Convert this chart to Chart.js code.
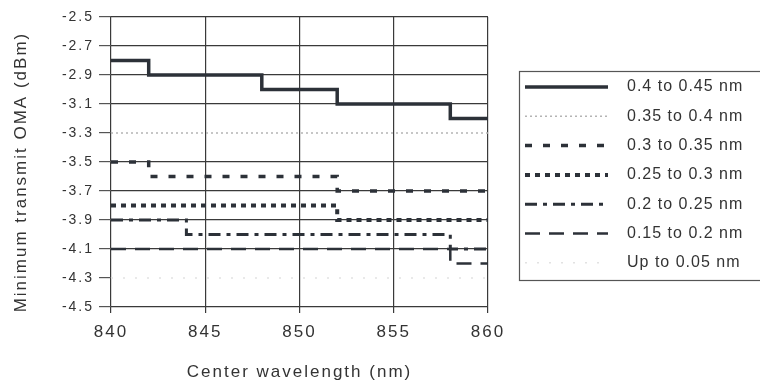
<!DOCTYPE html>
<html>
<head>
<meta charset="utf-8">
<script src="https://cdn.jsdelivr.net/npm/chart.js@4.4.0/dist/chart.umd.min.js"></script>
<style>
html, body { margin: 0; padding: 0; background: #fff; }
</style>
</head>
<body>
<canvas id="myChart" width="760" height="384"></canvas>
<script>
// tick labels
const wavelengthTicks = [840, 845, 850, 855, 860];
const omaTicks = [-2.5, -2.7, -2.9, -3.1, -3.3, -3.5, -3.7, -3.9, -4.1, -4.3, -4.5];

// series names (RMS spectral width)
const seriesNames = ['0.4 to 0.45 nm', '0.35 to 0.4 nm', '0.3 to 0.35 nm', '0.25 to 0.3 nm',
                     '0.2 to 0.25 nm', '0.15 to 0.2 nm', 'Up to 0.05 nm'];

// step breakpoints (nm) and minimum OMA (dBm) from each breakpoint on
const wl_040_045 = [840, 842, 848, 852, 858, 860];
const oma_040_045 = [-2.8, -2.9, -3.0, -3.1, -3.2, -3.2];
const wl_035_040 = [840, 860];
const oma_035_040 = [-3.3, -3.3];
const wl_030_035 = [840, 842, 852, 860];
const oma_030_035 = [-3.5, -3.6, -3.7, -3.7];
const wl_025_030 = [840, 852, 860];
const oma_025_030 = [-3.8, -3.9, -3.9];
const wl_020_025 = [840, 844, 858, 860];
const oma_020_025 = [-3.9, -4.0, -4.1, -4.1];
const wl_015_020 = [840, 858, 860];
const oma_015_020 = [-4.1, -4.2, -4.2];
const wl_000_005 = [840, 860];
const oma_000_005 = [-4.3, -4.3];

const seriesX = [wl_040_045, wl_035_040, wl_030_035, wl_025_030, wl_020_025, wl_015_020, wl_000_005];
const seriesY = [oma_040_045, oma_035_040, oma_030_035, oma_025_030, oma_020_025, oma_015_020, oma_000_005];

// line looks
const ink = '#2c3138';
const styles = [
    { color: ink, width: 3.5, dash: [] },
    { color: '#b4b4b4', width: 1.5, dash: [2, 3] },
    { color: ink, width: 3.5, dash: [7, 11] },
    { color: ink, width: 4, dash: [5, 5] },
    { color: ink, width: 3, dash: [12, 6, 4, 6] },
    { color: ink, width: 2.5, dash: [15, 9] },
    { color: '#e2e2e2', width: 1.5, dash: [2, 10] }
];

const FONT = '"Liberation Sans", Arial, sans-serif';

function toPoints(xs, ys) {
    var pts = [];
    for (let i = 0; i < xs.length; i++) {
        pts.push({ x: xs[i], y: ys[i] });
    }
    return pts;
}

var datasets = [];
for (let i = 0; i < seriesNames.length; i++) {
    datasets.push({
        label: seriesNames[i],
        data: toPoints(seriesX[i], seriesY[i]),
        stepped: 'before',
        borderColor: styles[i].color,
        borderWidth: styles[i].width,
        borderDash: styles[i].dash,
        pointRadius: 0,
        fill: false
    });
}

function isHiddenGrid(v) {
    // these two levels are covered by faint series in the figure
    return Math.abs(v + 3.3) < 0.01 || Math.abs(v + 4.3) < 0.01;
}

const spacingPlugin = {
    id: 'spacing',
    beforeDraw(chart) {
        chart.ctx.letterSpacing = '2px';
    }
};

const boxLegend = {
    id: 'boxLegend',
    afterDraw(chart) {
        const ctx = chart.ctx;
        ctx.save();
        ctx.strokeStyle = '#555';
        ctx.lineWidth = 1.2;
        ctx.strokeRect(519.5, 71.5, 260, 209);
        ctx.font = '16px ' + FONT;
        ctx.letterSpacing = '1px';
        ctx.textBaseline = 'middle';
        ctx.fillStyle = '#333';
        chart.data.datasets.forEach(function (ds, i) {
            const y = 87 + i * 29.3;
            ctx.beginPath();
            ctx.setLineDash(ds.borderDash);
            ctx.lineWidth = ds.borderWidth;
            ctx.strokeStyle = ds.borderColor;
            ctx.moveTo(525, y);
            ctx.lineTo(608, y);
            ctx.stroke();
            ctx.setLineDash([]);
            ctx.fillText(ds.label, 627, y);
        });
        ctx.restore();
    }
};

var myChart = new Chart(document.getElementById('myChart'), {
    type: 'line',
    data: { datasets: datasets },
    plugins: [spacingPlugin, boxLegend],
    options: {
        responsive: false,
        animation: false,
        devicePixelRatio: 1,
        layout: { padding: { top: 17, right: 272, left: 0, bottom: 0 } },
        plugins: {
            legend: { display: false },
            tooltip: { enabled: false }
        },
        scales: {
            x: {
                type: 'linear',
                min: 840,
                max: 860,
                afterBuildTicks: function (s) {
                    s.ticks = wavelengthTicks.map(v => ({ value: v }));
                },
                afterFit: function (s) { s.height = 77; },
                ticks: {
                    font: { family: FONT, size: 17 },
                    color: '#333',
                    padding: 9,
                    callback: v => String(v)
                },
                grid: { color: '#3a3a3a', lineWidth: 1.2, tickLength: 6, tickColor: '#3a3a3a' },
                border: { display: false },
                title: {
                    display: true,
                    text: 'Center wavelength (nm)',
                    font: { family: FONT, size: 17 },
                    color: '#333',
                    padding: { top: 0, bottom: 1 }
                }
            },
            y: {
                min: -4.5,
                max: -2.5,
                afterBuildTicks: function (s) {
                    s.ticks = omaTicks.map(v => ({ value: v }));
                },
                afterFit: function (s) { s.width = 111; },
                ticks: {
                    font: { family: FONT, size: 14 },
                    color: '#333',
                    padding: 5,
                    callback: v => v.toFixed(1)
                },
                grid: {
                    color: c => (c.tick && isHiddenGrid(c.tick.value)) ? 'rgba(0,0,0,0)' : '#3a3a3a',
                    lineWidth: 1.2,
                    tickLength: 12,
                    tickColor: '#555'
                },
                border: { display: false },
                title: {
                    display: true,
                    text: 'Minimum transmit OMA (dBm)   ',
                    font: { family: FONT, size: 17 },
                    color: '#333',
                    padding: { top: 11, bottom: 0 }
                }
            }
        }
    }
});
</script>
</body>
</html>
